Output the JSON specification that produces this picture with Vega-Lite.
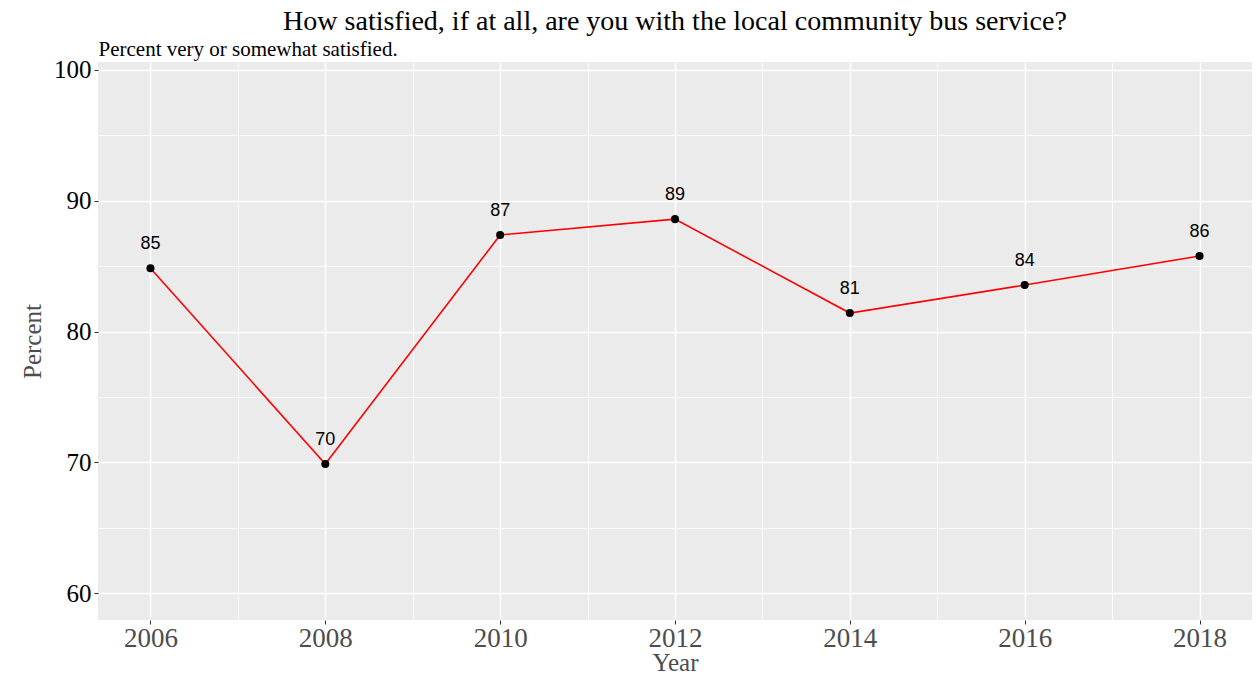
{
  "$schema": "https://vega.github.io/schema/vega-lite/v6.json",
  "width": 1154,
  "height": 558,
  "autosize": {"type": "none"},
  "padding": {"left": 98, "top": 62, "right": 7, "bottom": 57},
  "background": "white",
  "title": {
    "text": "How satisfied, if at all, are you with the local community bus service?",
    "anchor": "middle",
    "frame": "group",
    "font": "Liberation Serif",
    "fontSize": 28,
    "fontWeight": "normal",
    "color": "black",
    "offset": 2
  },
  "data": {
    "values": [
      {"Year": 2006, "Percent": 84.85},
      {"Year": 2008, "Percent": 69.88},
      {"Year": 2010, "Percent": 87.39},
      {"Year": 2012, "Percent": 88.6},
      {"Year": 2014, "Percent": 81.42},
      {"Year": 2016, "Percent": 83.56},
      {"Year": 2018, "Percent": 85.78}
    ]
  },
  "config": {
    "view": {"fill": "#EBEBEB", "stroke": null},
    "axis": {
      "labelFont": "Liberation Serif",
      "titleFont": "Liberation Serif",
      "labelFontSize": 26,
      "titleFontSize": 25,
      "titleFontWeight": "normal",
      "gridColor": "white",
      "domain": false,
      "tickColor": "#333333",
      "tickSize": 4,
      "tickWidth": 1
    }
  },
  "layer": [
    {
      "encoding": {
        "x": {
          "field": "Year",
          "type": "quantitative",
          "scale": {"domain": [2005.4, 2018.6], "nice": false, "zero": false},
          "axis": {
            "values": [2006, 2007, 2008, 2009, 2010, 2011, 2012, 2013, 2014, 2015, 2016, 2017, 2018],
            "labelExpr": "datum.value % 2 === 0 ? datum.value : ''",
            "labelColor": "#4D4D4D",
            "labelFontSize": 27,
            "labelPadding": 1,
            "titleColor": "#4D4D4D",
            "titlePadding": -1,
            "title": "Year",
            "tickOpacity": {"condition": {"test": "datum.value % 2 === 1", "value": 0}, "value": 1},
            "gridWidth": {"condition": {"test": "datum.value % 2 === 1", "value": 0.8}, "value": 1.5}
          }
        },
        "y": {
          "field": "Percent",
          "type": "quantitative",
          "scale": {"domain": [57.96, 100.61], "nice": false, "zero": false},
          "axis": {
            "values": [60, 65, 70, 75, 80, 85, 90, 95, 100],
            "labelExpr": "datum.value % 10 === 0 ? datum.value : ''",
            "labelColor": "black",
            "labelFontSize": 25,
            "labelPadding": 3,
            "titleColor": "#4D4D4D",
            "titlePadding": 8,
            "title": "Percent",
            "tickOpacity": {"condition": {"test": "datum.value % 10 !== 0", "value": 0}, "value": 1},
            "gridWidth": {"condition": {"test": "datum.value % 10 !== 0", "value": 0.8}, "value": 1.5}
          }
        }
      },
      "layer": [
        {"mark": {"type": "line", "color": "red", "strokeWidth": 1.6}},
        {"mark": {"type": "point", "filled": true, "color": "black", "opacity": 1, "size": 65}},
        {
          "mark": {"type": "text", "font": "Liberation Sans", "fontSize": 18, "color": "black", "dy": -24, "baseline": "middle"},
          "encoding": {"text": {"field": "Percent", "type": "quantitative", "format": ".0f"}}
        }
      ]
    },
    {
      "mark": {"type": "point", "opacity": 0},
      "encoding": {
        "x": {
          "field": "Year",
          "type": "quantitative",
          "axis": {
            "orient": "top",
            "title": "Percent very or somewhat satisfied.",
            "titleAnchor": "start",
            "titleAlign": "left",
            "titleColor": "black",
            "titleFontSize": 21,
            "titlePadding": 3,
            "labels": false,
            "ticks": false,
            "grid": false
          }
        },
        "y": {"field": "Percent", "type": "quantitative"}
      }
    }
  ],
  "resolve": {"axis": {"x": "independent"}}
}
